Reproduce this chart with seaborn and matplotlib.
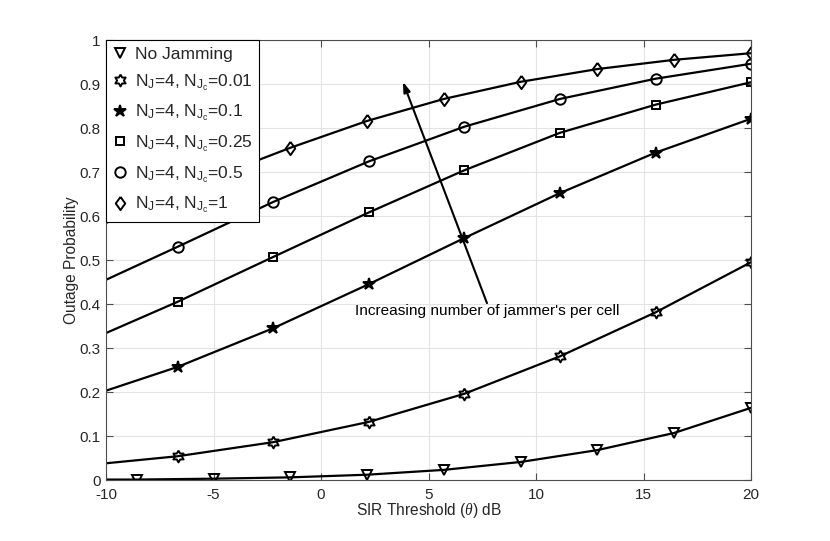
import numpy as np
import pandas as pd
import matplotlib
matplotlib.use("Agg")
import matplotlib.pyplot as plt
from matplotlib.lines import Line2D
import seaborn as sns

# ---------------- data ----------------
x_a = [-10, -8.57, -5.0, -1.43, 2.14, 5.71, 9.29, 12.86, 16.43, 20]
x_b = [-10, -6.67, -2.22, 2.22, 6.67, 11.11, 15.56, 20]

no_jam = [0.001, 0.001, 0.003, 0.006, 0.012, 0.023, 0.041, 0.068, 0.107, 0.164]
nc_001 = [0.038, 0.054, 0.086, 0.132, 0.196, 0.281, 0.381, 0.495]
nc_01 = [0.203, 0.257, 0.345, 0.445, 0.550, 0.652, 0.744, 0.821]
nc_025 = [0.334, 0.405, 0.507, 0.608, 0.704, 0.789, 0.853, 0.904]
nc_05 = [0.455, 0.530, 0.632, 0.724, 0.803, 0.866, 0.912, 0.946]
nc_1 = [0.584, 0.617, 0.688, 0.755, 0.816, 0.866, 0.905, 0.934, 0.955, 0.970]

labels = [
    "No Jamming",
    r"N$_J$=4, N$_{J_c}$=0.01",
    r"N$_J$=4, N$_{J_c}$=0.1",
    r"N$_J$=4, N$_{J_c}$=0.25",
    r"N$_J$=4, N$_{J_c}$=0.5",
    r"N$_J$=4, N$_{J_c}$=1",
]
x_ticks = [-10, -5, 0, 5, 10, 15, 20]
y_ticks = [0, 0.1, 0.2, 0.3, 0.4, 0.5, 0.6, 0.7, 0.8, 0.9, 1.0]
x_label = r"SIR Threshold ($\mathit{\theta}$) dB"
y_label = "Outage Probability"
annot_text = "Increasing number of jammer's per cell"

# ---------------- style ----------------
sns.set_style("ticks")
plt.rcParams["font.family"] = ["Liberation Sans", "DejaVu Sans"]
plt.rcParams["mathtext.fontset"] = "custom"
plt.rcParams["mathtext.rm"] = "Liberation Sans"
plt.rcParams["mathtext.it"] = "Liberation Serif:italic"
plt.rcParams["mathtext.default"] = "regular"
plt.rcParams["axes.unicode_minus"] = False

# markers
hexagram = []
for k in range(12):
    ang = np.pi / 2 + k * np.pi / 6
    r = 1.0 if k % 2 == 0 else 0.577
    hexagram.append((r * np.cos(ang), r * np.sin(ang)))
hexagram.append(hexagram[0])
diamond = [(0, 1), (0.72, 0), (0, -1), (-0.72, 0), (0, 1)]

series = [
    (x_a, no_jam, dict(marker="v", ms=7.8, mfc="none")),
    (x_b, nc_001, dict(marker=hexagram, ms=8.5, mfc="none")),
    (x_b, nc_01, dict(marker="*", ms=9.0, mfc="black")),
    (x_b, nc_025, dict(marker="s", ms=6.3, mfc="none")),
    (x_b, nc_05, dict(marker="o", ms=7.5, mfc="none")),
    (x_a, nc_1, dict(marker=diamond, ms=9.5, mfc="none")),
]

fig = plt.figure(figsize=(8.30, 5.41), dpi=100)
ax = fig.add_axes([106 / 830, 1 - 480 / 541, (751 - 106) / 830, (480 - 40) / 541])

handles = []
for (xs, ys, mk), lab in zip(series, labels):
    df = pd.DataFrame({"x": xs, "y": ys})
    sns.lineplot(data=df, x="x", y="y", ax=ax, color="black", lw=1.6,
                 markevery=list(range(1, len(xs))), mec="black", mew=1.4,
                 sort=False, estimator=None, **mk)
    handles.append(Line2D([], [], ls="none", color="black", mec="black",
                          mew=1.4, **mk))

ax.set_xlim(-10, 20)
ax.set_ylim(0, 1)
ax.set_xticks(x_ticks)
ax.set_xticklabels([f"{v:g}" for v in x_ticks])
ax.set_yticks(y_ticks)
ax.set_yticklabels([f"{v:g}" for v in y_ticks])
ax.grid(True, color="#e3e3e3", lw=0.8)
ax.set_axisbelow(True)
for sp in ax.spines.values():
    sp.set_color("#4d4d4d")
    sp.set_linewidth(0.8)
ax.tick_params(direction="in", length=5, width=0.8, color="#4d4d4d",
               labelsize=11, labelcolor="#262626", top=True, right=True)
ax.tick_params(axis="x", pad=6)
ax.tick_params(axis="y", pad=4)
ax.set_xlabel(x_label, fontsize=11.2, color="#262626", labelpad=-1)
ax.set_ylabel(y_label, fontsize=11.2, color="#262626", labelpad=0.5)

ax.annotate("", xy=(3.81, 0.905), xytext=(7.72, 0.402),
            arrowprops=dict(arrowstyle="-|>,head_length=0.6,head_width=0.2",
                            color="black", lw=1.5, shrinkA=0, shrinkB=0))
ax.text(1.58, 0.375, annot_text, fontsize=11.1, color="black", va="baseline")

leg = ax.legend(handles, labels, loc="upper left", borderaxespad=0,
                fontsize=12.5, frameon=True, fancybox=False, framealpha=1,
                edgecolor="black", handlelength=0.8, handletextpad=0.45,
                labelspacing=0.58, borderpad=0.4)
leg.get_frame().set_linewidth(0.8)
leg.set_zorder(10)

fig.savefig("out.png", dpi=100)
